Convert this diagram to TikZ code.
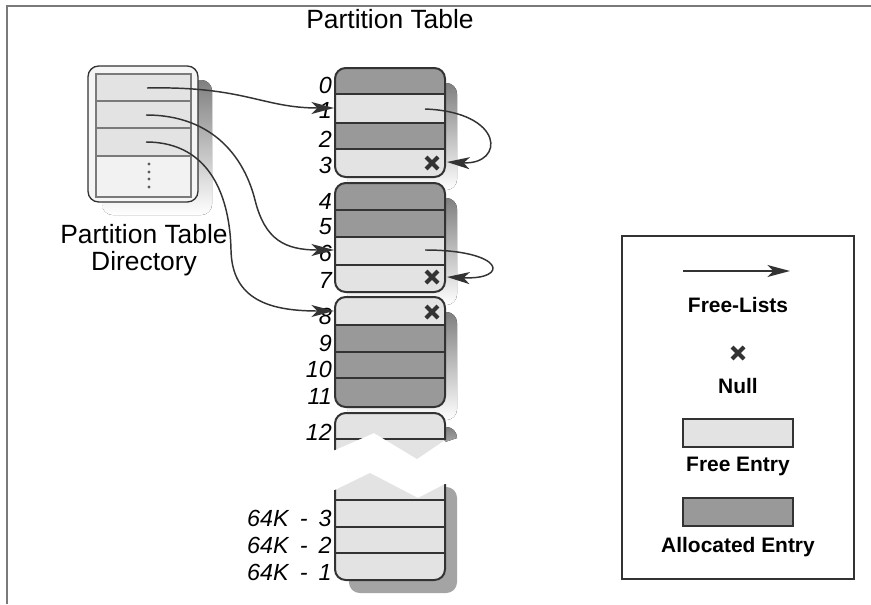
\documentclass[tikz,border=0pt]{standalone}
\usepackage{fontspec}
\setmainfont{Liberation Sans}
\usetikzlibrary{arrows.meta}
\definecolor{alloc}{HTML}{999999}
\definecolor{freec}{HTML}{E3E3E3}
\definecolor{shade}{HTML}{B4B4B4}
\definecolor{shadeb}{HTML}{A4A4A4}
\definecolor{edge}{HTML}{333333}
\definecolor{framec}{HTML}{7A7A7A}
\newcommand\ptblk[9]{%
  \fill[shade, rounded corners=8] (347,#1+15) rectangle (457,#5+13);
  \begin{scope}
    \clip[rounded corners=8] (335,#1) rectangle (445,#5);
    \fill[#6] (335,#1) rectangle (445,#2);
    \fill[#7] (335,#2) rectangle (445,#3);
    \fill[#8] (335,#3) rectangle (445,#4);
    \fill[#9] (335,#4) rectangle (445,#5);
  \end{scope}
  \draw[bord, rounded corners=8] (335,#1) rectangle (445,#5);
  \draw[bord] (335,#2) -- (445,#2) (335,#3) -- (445,#3) (335,#4) -- (445,#4);
}
\begin{document}
\begin{tikzpicture}[x=0.75pt,y=-0.75pt,
  arr/.style={draw=edge, line width=1.1pt, -{Stealth[length=17pt,width=9pt,inset=4.5pt]}},
  lab/.style={anchor=east, inner sep=0pt, font=\fontsize{17.5}{20}\selectfont\itshape},
  ttl/.style={font=\fontsize{19.8}{20.3}\selectfont, inner sep=0pt},
  leg/.style={font=\fontsize{15.7}{19}\selectfont\bfseries, inner sep=0pt},
  legbox/.style={draw=edge, line width=1.1pt, minimum width=82.5pt, minimum height=21pt, inner sep=0pt},
  bord/.style={draw=edge, line width=1.5pt},
  nullx/.pic={\draw[edge, line width=3pt] (-6,-6)--(6,6) (-6,6)--(6,-6);}
]
\useasboundingbox (0,0) rectangle (871,604);
\fill[white] (0,0) rectangle (871,604);
\draw[framec, line width=1.5pt] (7,604) -- (7,6) -- (871,6);

% title
\node[ttl] (title) at (390,19) {Partition Table};

% directory
\fill[shade, rounded corners=8] (102,80) rectangle (212,215);
\node[draw=edge, line width=1pt, fill=white!96!black, rounded corners=8,
      minimum width=82.5pt, minimum height=102pt, inner sep=0pt] (dir) at (143,134) {};
\fill[freec] (96,74) rectangle (191,156);
\fill[white!95!black] (96,156) rectangle (191,197);
\draw[framec, line width=0.8pt] (96,74) rectangle (191,197)
  (96,101) -- (191,101) (96,128) -- (191,128) (96,156) -- (191,156);
\foreach \yy in {164,172,179,187} \fill[edge!80] (149,\yy) circle[radius=1.6];
\node[ttl, align=center] (dirlab) at (144,250) {Partition Table\\Directory};

% table blocks
\ptblk{68}{94}{123}{149}{177}{alloc}{freec}{alloc}{freec}
\ptblk{183}{210}{237}{265}{292}{alloc}{alloc}{freec}{freec}
\ptblk{297}{325}{352}{378}{407}{freec}{alloc}{alloc}{alloc}

% upper broken piece
\begin{scope}
  \clip (445,420) -- (460,420) -- (460,437) -- (445,442) -- cycle;
  \fill[shade, rounded corners=8] (347,427) rectangle (457,480);
\end{scope}
\begin{scope}
  \clip (325,400) -- (455,400) -- (455,440) -- (445,440) -- (417,459) -- (374,433) -- (335,450) -- (325,450) -- cycle;
  \fill[freec, rounded corners=8] (335,413) rectangle (445,480);
  \draw[bord, rounded corners=8] (335,413) rectangle (445,480);
  \draw[bord] (335,439) -- (445,439);
\end{scope}

% lower broken piece
\begin{scope}
  \clip (335,500) -- (445,500) -- (445,480) -- (470,480) -- (470,600) -- (335,600) -- cycle;
  \fill[shadeb, rounded corners=8] (349,487) rectangle (457,593);
\end{scope}
\begin{scope}
  \clip (325,490) -- (335,490) -- (370,473) -- (418,498) -- (445,484) -- (455,484) -- (455,600) -- (325,600) -- cycle;
  \fill[freec, rounded corners=8] (335,460) rectangle (445,580);
  \draw[bord, rounded corners=8] (335,460) rectangle (445,580);
  \draw[bord] (335,500) -- (445,500) (335,527) -- (445,527) (335,553) -- (445,553);
\end{scope}

% row labels
\node[lab] (l0) at (332,85.5) {0};
\node[lab] (l1) at (332,110) {1};
\node[lab] (l2) at (332,139.5) {2};
\node[lab] (l3) at (332,165.5) {3};
\node[lab] (l4) at (332,201) {4};
\node[lab] (l5) at (332,227) {5};
\node[lab] (l6) at (332,253) {6};
\node[lab] (l7) at (332,280) {7};
\node[lab] (l8) at (332,316) {8};
\node[lab] (l9) at (332,343) {9};
\node[lab] (l10) at (332,369) {10};
\node[lab] (l11) at (332,396) {11};
\node[lab] (l12) at (332,432) {12};
\node[lab] (lm3) at (332,518) {64K\hspace{0.2em} -\hspace{0.2em} 3};
\node[lab] (lm2) at (332,545) {64K\hspace{0.2em} -\hspace{0.2em} 2};
\node[lab] (lm1) at (332,572) {64K\hspace{0.2em} -\hspace{0.2em} 1};

% null marks
\pic at (432,163) {nullx};
\pic at (432,277) {nullx};
\pic at (432,312) {nullx};

% connectors
\coordinate (d1) at (147,88);
\coordinate (d2) at (146,115);
\coordinate (d3) at (146,142);
\coordinate (t1) at (334,108);
\coordinate (t6) at (334,250);
\coordinate (t8) at (334,311);
\coordinate (s1) at (425,109);
\coordinate (e3) at (447,162);
\coordinate (s6) at (425,250);
\coordinate (e7) at (447,277);
\draw[arr] (d1) .. controls (245,86) and (262,108) .. (t1);
\draw[arr] (d2) .. controls (215,115) and (245,160) .. (255,200) .. controls (265,240) and (285,250) .. (t6);
\draw[arr] (d3) .. controls (212,142) and (230,200) .. (231,250) .. controls (232,300) and (270,311) .. (t8);
\draw[arr] (s1) .. controls (505,112) and (505,165) .. (e3);
\draw[arr] (s6) .. controls (505,250) and (510,280) .. (e7);

% legend
\draw[edge, line width=1.1pt] (622,236) rectangle (854,579);
\coordinate (la) at (683,271);
\coordinate (lb) at (790,271);
\draw[arr] (la) -- (lb);
\node[leg] (fl) at (738,305) {Free-Lists};
\pic at (738,353) {nullx};
\node[leg] (nl) at (738,386) {Null};
\node[legbox, fill=freec] (fe) at (738,433) {};
\node[leg] (fet) at (738,466) {Free Entry};
\node[legbox, fill=alloc] (ae) at (738,512) {};
\node[leg] (aet) at (738,547) {Allocated Entry};
\end{tikzpicture}
\end{document}
